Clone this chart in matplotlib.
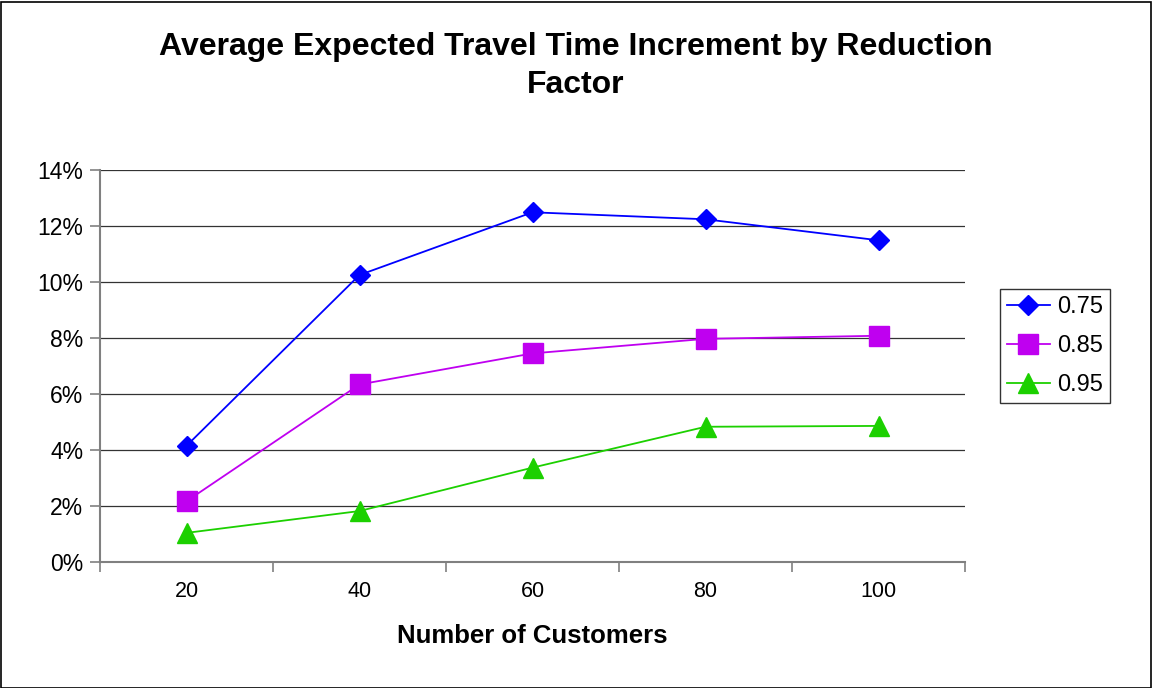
import matplotlib
matplotlib.use("Agg")
import matplotlib.pyplot as plt
from matplotlib.patches import Rectangle
from matplotlib.ticker import FixedLocator, PercentFormatter

plt.rcParams['font.family'] = ['Liberation Sans', 'DejaVu Sans']

customers = ["20", "40", "60", "80", "100"]
factor_075 = [4.15, 10.25, 12.49, 12.24, 11.49]
factor_085 = [2.17, 6.34, 7.45, 7.97, 8.08]
factor_095 = [1.04, 1.82, 3.37, 4.83, 4.86]
series_labels = ["0.75", "0.85", "0.95"]
y_ticks = [0, 2, 4, 6, 8, 10, 12, 14]

W, H = 1152, 688
fig = plt.figure(figsize=(W / 100, H / 100), dpi=100)
ax = fig.add_axes([100 / W, 1 - 562 / H, (965 - 100) / W, (562 - 170) / H])

x = list(range(len(customers)))
styles = [
    (factor_075, "#0000FF", "D", 10.5),
    (factor_085, "#BF00F0", "s", 14.5),
    (factor_095, "#1CD000", "^", 15),
]
for (vals, col, mk, ms), lab in zip(styles, series_labels):
    ax.plot(x, vals, color=col, lw=1.3, marker=mk, markersize=ms,
            markerfacecolor=col, markeredgecolor=col, label=lab, zorder=3)

ax.set_xlim(-0.5, len(customers) - 0.5)
ax.set_ylim(0, 14)
ax.set_yticks(y_ticks)
ax.yaxis.set_major_formatter(PercentFormatter(decimals=0))
ax.set_xticks(x)
ax.set_xticklabels(customers)
ax.xaxis.set_minor_locator(FixedLocator([i - 0.5 for i in range(len(customers) + 1)]))
ax.tick_params(axis='x', which='major', length=0, labelsize=15.5, pad=14)
ax.tick_params(axis='x', which='minor', length=7, width=1.2, color='#808080', direction='out')
ax.tick_params(axis='y', length=7, width=1.2, color='#808080', labelsize=16.5, pad=5)
ax.grid(axis='y', color='#333333', lw=0.9)
ax.set_axisbelow(True)
for s in ("top", "right"):
    ax.spines[s].set_visible(False)
for s in ("left", "bottom"):
    ax.spines[s].set_color('#808080')
    ax.spines[s].set_linewidth(1.5)

ax.set_xlabel("Number of Customers", fontsize=18.5, fontweight='bold', va='center')
ax.xaxis.set_label_coords(0.5, -(636 - 562) / (562 - 170))

fig.text(576 / W, 1 - 66 / H,
         "Average Expected Travel Time Increment by Reduction\nFactor",
         ha='center', va='center', fontsize=23, fontweight='bold', linespacing=1.32)

leg = fig.legend(loc='center', bbox_to_anchor=(1055 / W, 1 - 346 / H),
                 fontsize=17, frameon=True, fancybox=False, edgecolor='#000000',
                 handlelength=1.85, borderpad=0.3, labelspacing=0.72,
                 handletextpad=0.3, markerscale=0.95, borderaxespad=0)
leg.get_frame().set_linewidth(1.0)

fig.patches.append(Rectangle((0.5 / W, 0.5 / H), 1 - 2 / W, 1 - 2 / H,
                             transform=fig.transFigure, fill=False,
                             edgecolor='#000000', lw=1.2))

fig.savefig("out.png", dpi=100)
